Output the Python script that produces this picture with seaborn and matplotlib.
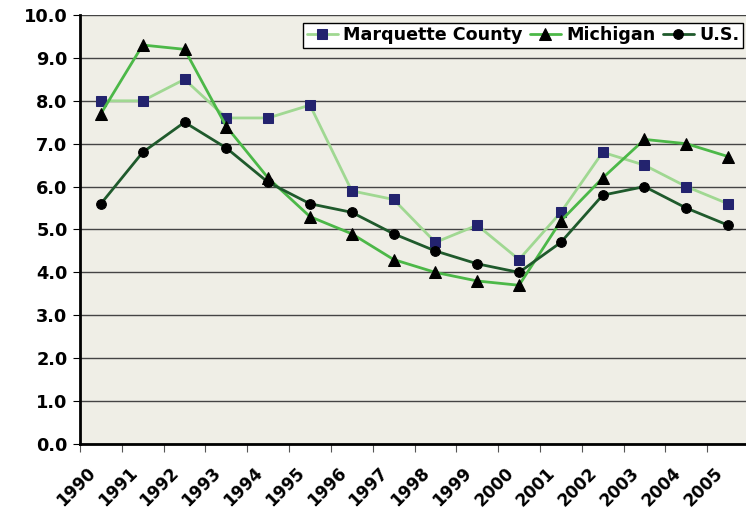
import pandas as pd
import matplotlib.pyplot as plt
import seaborn as sns

years = [str(y) for y in range(1990, 2006)]
marquette = [8.0, 8.0, 8.5, 7.6, 7.6, 7.9, 5.9, 5.7, 4.7, 5.1, 4.3, 5.4, 6.8, 6.5, 6.0, 5.6]
michigan = [7.7, 9.3, 9.2, 7.4, 6.2, 5.3, 4.9, 4.3, 4.0, 3.8, 3.7, 5.2, 6.2, 7.1, 7.0, 6.7]
us = [5.6, 6.8, 7.5, 6.9, 6.1, 5.6, 5.4, 4.9, 4.5, 4.2, 4.0, 4.7, 5.8, 6.0, 5.5, 5.1]

series = {"Marquette County": marquette, "Michigan": michigan, "U.S.": us}
styles = {
    "Marquette County": dict(color="#a0d892", marker="s", mfc="#23236e", ms=7.5),
    "Michigan": dict(color="#4cb848", marker="^", mfc="black", ms=8),
    "U.S.": dict(color="#1f5a2c", marker="o", mfc="black", ms=7),
}

rows = []
for name, vals in series.items():
    for i, v in enumerate(vals):
        rows.append((name, i, v))
df = pd.DataFrame(rows, columns=["Area", "idx", "Rate"])

sns.set_style("white")
plt.rcParams["font.family"] = ["DejaVu Sans"]
plt.rcParams["font.weight"] = "bold"
plt.rcParams["text.color"] = "black"
plt.rcParams["xtick.labelcolor"] = "black"
plt.rcParams["ytick.labelcolor"] = "black"

fig = plt.figure(figsize=(7.46, 5.12), dpi=100)
ax = fig.add_axes([80 / 746, 1 - 444 / 512, 669 / 746, 429 / 512])
ax.set_facecolor("#efeee6")

for name in series:
    st = styles[name]
    sns.lineplot(data=df[df["Area"] == name], x="idx", y="Rate", ax=ax,
                 color=st["color"], linewidth=2, marker=st["marker"],
                 markersize=st["ms"], markerfacecolor=st["mfc"],
                 markeredgecolor=st["mfc"], label=name)

ax.set_ylim(0, 10)
ax.set_xlim(-0.5, 15.5)
ax.set_yticks(range(0, 11))
ax.set_yticklabels([f"{v:.1f}" for v in range(0, 11)], fontsize=12.8, fontweight="bold")
ax.yaxis.grid(True, color="#444444", linewidth=1)
ax.set_axisbelow(True)

# tick marks sit between categories, labels slightly left of each category centre
ax.set_xticks([i - 0.5 for i in range(16)])
ax.set_xticklabels([])
ax.set_xticks([i - 0.2 for i in range(16)], minor=True)
ax.set_xticklabels(years, minor=True, rotation=45, ha="right", va="center",
                   rotation_mode="anchor", fontsize=12.2, fontweight="bold")
ax.tick_params(axis="x", which="major", length=6, color="#555555", direction="out", bottom=True)
ax.tick_params(axis="x", which="minor", length=0, pad=19)
ax.tick_params(axis="y", length=5, color="black", left=True, pad=4)

ax.set_xlabel("")
ax.set_ylabel("")
for s in ["top", "right"]:
    ax.spines[s].set_visible(False)
for s in ["left", "bottom"]:
    ax.spines[s].set_color("black")
    ax.spines[s].set_linewidth(2)

leg = ax.legend(loc="upper right", bbox_to_anchor=(743 / 746, 1 - 23 / 512),
                bbox_transform=fig.transFigure, ncol=3, frameon=True,
                fancybox=False, framealpha=1, edgecolor="black",
                prop=dict(size=12.6, weight="bold"), handlelength=1.8,
                handletextpad=0.3, columnspacing=0.4, borderpad=0.2,
                borderaxespad=0)
leg.get_frame().set_linewidth(1)

fig.savefig("out.png", dpi=100)
